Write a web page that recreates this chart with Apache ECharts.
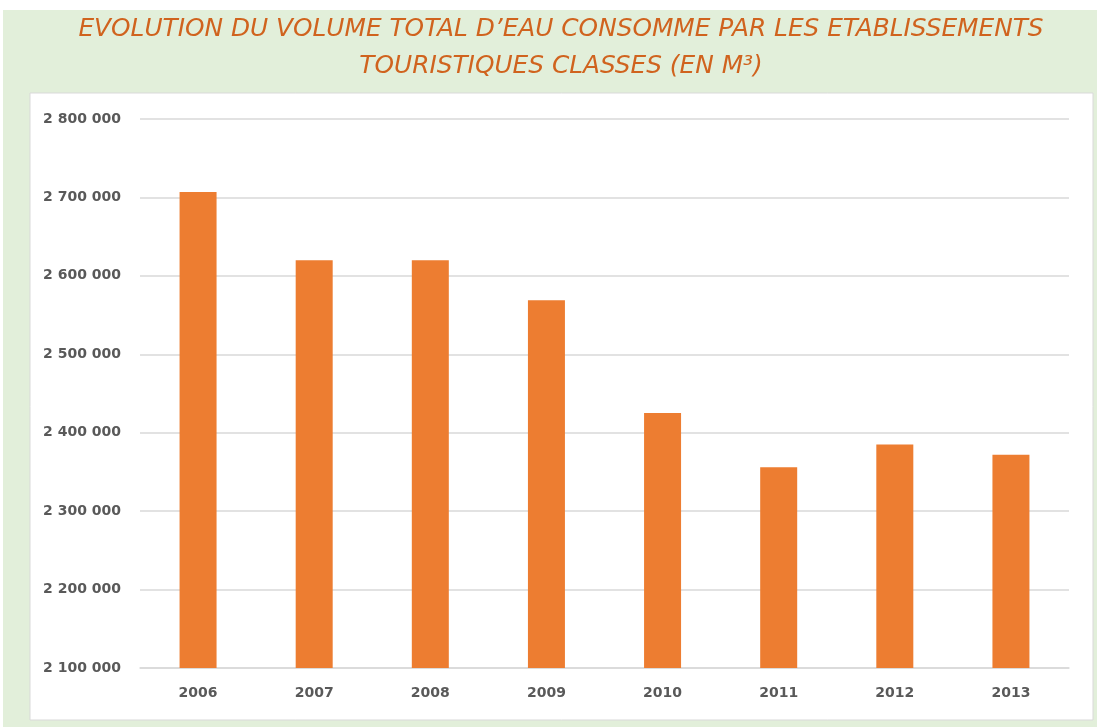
<!DOCTYPE html>
<html>
<head>
<meta charset="utf-8">
<script src="https://cdn.jsdelivr.net/npm/echarts@6/dist/echarts.min.js"></script>
<style>
  html, body { margin: 0; padding: 0; background: #fff; }
  #chart { width: 1097px; height: 727px; }
</style>
</head>
<body>
<div id="chart"></div>
<script>
// 旅游分级酒店用水总量（m³）
const years = ['2006', '2007', '2008', '2009', '2010', '2011', '2012', '2013']
const volumes = [2707000, 2620000, 2620000, 2569000, 2425000, 2356000, 2385000, 2372000]
const titleLines = [
  'EVOLUTION DU VOLUME TOTAL D\u2019EAU CONSOMME PAR LES ETABLISSEMENTS',
  'TOURISTIQUES CLASSES (EN M\u00B3)'
]

const chart = echarts.init(document.getElementById('chart'))

// 千位空格分隔
const fmt = v => String(v).replace(/\B(?=(\d{3})+(?!\d))/g, ' ')

const titleText = (text, y) => ({
  type: 'text', silent: true,
  x: 561, y,
  style: {
    text,
    fill: '#D0631E',
    font: 'italic 24.8px "DejaVu Sans"',
    align: 'center',
    verticalAlign: 'middle'
  }
})

chart.setOption({
  backgroundColor: 'transparent',
  animation: false,
  graphic: [
    {
      type: 'rect', z: -10, silent: true,
      shape: { x: 3, y: 10, width: 1094, height: 717 },
      style: { fill: '#E2EFDA' }
    },
    {
      type: 'rect', z: -9, silent: true,
      shape: { x: 30, y: 93, width: 1063, height: 627 },
      style: { fill: '#fff', stroke: '#D9D9D9', lineWidth: 1 }
    },
    titleText(titleLines[0], 30),
    titleText(titleLines[1], 67)
  ],
  grid: { left: 140, right: 28, top: 119, bottom: 59 },
  xAxis: {
    type: 'category',
    data: years,
    axisTick: { show: false },
    axisLine: { lineStyle: { color: '#D9D9D9', width: 1.5 } },
    axisLabel: {
      color: '#595959',
      fontSize: 14,
      fontWeight: 'bold',
      fontFamily: 'DejaVu Sans',
      margin: 18
    }
  },
  yAxis: {
    type: 'value',
    min: 2100000,
    max: 2800000,
    interval: 100000,
    axisLine: { show: false },
    axisTick: { show: false },
    splitLine: { lineStyle: { color: '#D9D9D9', width: 1.5 } },
    axisLabel: {
      color: '#595959',
      fontSize: 14,
      fontWeight: 'bold',
      fontFamily: 'DejaVu Sans',
      margin: 19,
      formatter: fmt
    }
  },
  series: [
    {
      type: 'bar',
      data: volumes,
      barWidth: 37,
      itemStyle: { color: '#ED7D31' }
    }
  ]
})
</script>
</body>
</html>
